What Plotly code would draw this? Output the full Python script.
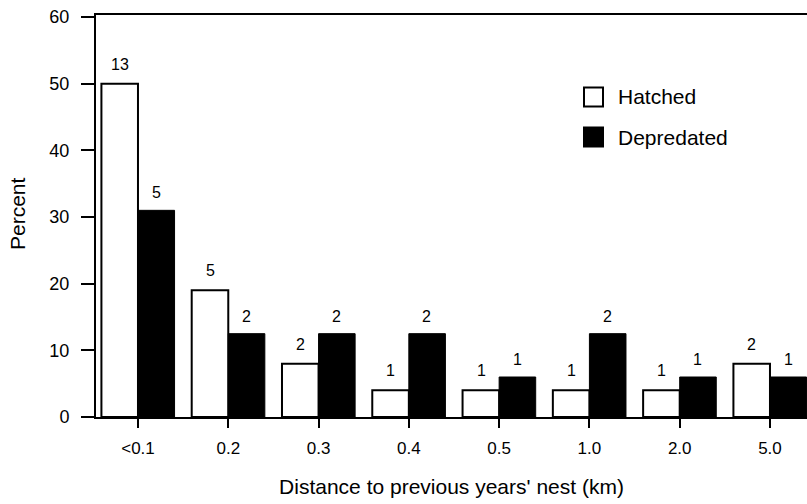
import plotly.graph_objects as go

categories = ["<0.1", "0.2", "0.3", "0.4", "0.5", "1.0", "2.0", "5.0"]
hatched_pct = [50, 19, 8, 4, 4, 4, 4, 8]
depredated_pct = [31, 12.5, 12.5, 12.5, 6, 12.5, 6, 6]
hatched_n = [13, 5, 2, 1, 1, 1, 1, 2]
depredated_n = [5, 2, 2, 2, 1, 2, 1, 1]
series_names = ["Hatched", "Depredated"]

W, H = 807, 504
ML, MR, MT, MB = 96, 0, 15, 87
PW, PH = W - ML - MR, H - MT - MB
FONT = "Arial, 'Liberation Sans', sans-serif"

def px2x(px):
    return (px - ML) / PW

def py2y(py):
    return (H - MB - py) / PH

xs = list(range(len(categories)))

fig = go.Figure()
fig.add_trace(go.Bar(
    x=xs, y=hatched_pct, name=series_names[0],
    marker=dict(color="white", line=dict(color="black", width=2)),
    showlegend=False,
))
fig.add_trace(go.Bar(
    x=xs, y=depredated_pct, name=series_names[1],
    marker=dict(color="black", line=dict(color="black", width=1)),
    showlegend=False,
))

annotations = []
for i, (v, n) in enumerate(zip(hatched_pct, hatched_n)):
    annotations.append(dict(x=i - 0.2, y=v, text=str(n), showarrow=False,
                            xref="x", yref="y", yanchor="bottom", yshift=9,
                            font=dict(family=FONT, size=16, color="black")))
for i, (v, n) in enumerate(zip(depredated_pct, depredated_n)):
    annotations.append(dict(x=i + 0.2, y=v, text=str(n), showarrow=False,
                            xref="x", yref="y", yanchor="bottom", yshift=7,
                            font=dict(family=FONT, size=16, color="black")))

# y-axis title
annotations.append(dict(x=px2x(17), y=py2y(214), xref="paper", yref="paper",
                        text="Percent", textangle=-90, showarrow=False,
                        xanchor="center", yanchor="middle",
                        font=dict(family=FONT, size=21, color="black")))

# legend
shapes = []
leg_x0, leg_x1 = 584, 603
for name, fill, cy in zip(series_names, ["white", "black"], [97, 137]):
    shapes.append(dict(type="rect", xref="paper", yref="paper",
                       x0=px2x(leg_x0), x1=px2x(leg_x1),
                       y0=py2y(cy + 9.5), y1=py2y(cy - 9.5),
                       fillcolor=fill, line=dict(color="black", width=2)))
    annotations.append(dict(x=px2x(616), y=py2y(cy), xref="paper", yref="paper",
                            text=name, showarrow=False, xanchor="left", yanchor="middle",
                            font=dict(family=FONT, size=21, color="black")))

fig.update_layout(
    width=W, height=H,
    margin=dict(l=ML, r=MR, t=MT, b=MB, pad=0),
    paper_bgcolor="white", plot_bgcolor="white",
    barmode="group", bargap=0.19, bargroupgap=0,
    annotations=annotations, shapes=shapes,
    font=dict(family=FONT, color="black"),
    xaxis=dict(
        tickmode="array", tickvals=xs, ticktext=categories,
        range=[-0.465, 7.41],
        showline=True, linecolor="black", linewidth=2, mirror=True,
        ticks="outside", ticklen=9, tickwidth=2, tickcolor="black",
        ticklabelstandoff=6,
        showgrid=False, zeroline=False,
        tickfont=dict(family=FONT, size=17, color="black"),
        title=dict(text="Distance to previous years' nest (km)",
                   font=dict(family=FONT, size=21, color="black"), standoff=22),
    ),
    yaxis=dict(
        range=[0, 60.3], tickvals=[0, 10, 20, 30, 40, 50, 60],
        showline=True, linecolor="black", linewidth=2,
        ticks="outside", ticklen=13, tickwidth=2, tickcolor="black",
        ticklabelstandoff=8,
        showgrid=False, zeroline=False,
        tickfont=dict(family=FONT, size=18, color="black"),
    ),
)

fig.write_html("out.html")
